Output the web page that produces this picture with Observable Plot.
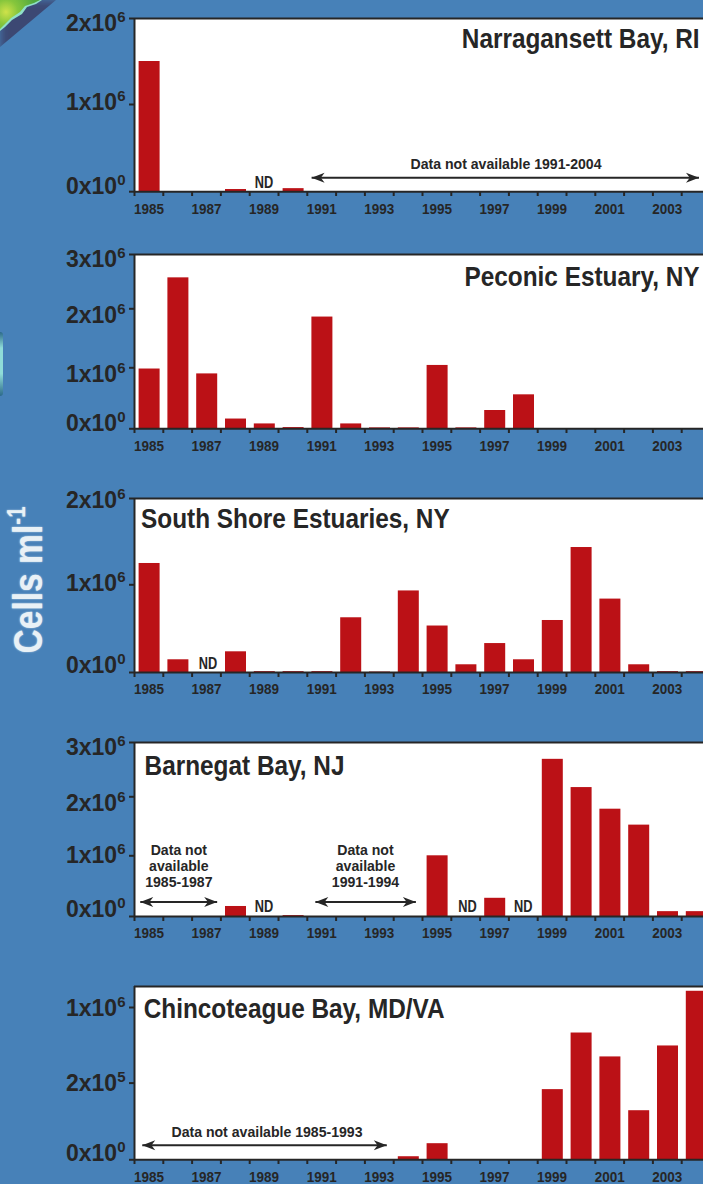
<!DOCTYPE html>
<html><head><meta charset="utf-8">
<script src="https://cdn.jsdelivr.net/npm/d3@7"></script>
<script src="https://cdn.jsdelivr.net/npm/@observablehq/plot@0.6"></script>
<style>
html,body{margin:0;padding:0;width:703px;height:1184px;overflow:hidden;background:#4781b8}
#page{position:relative;width:703px;height:1184px;overflow:hidden;background:#4781b8}
#page svg{position:absolute;left:0;background:none;max-width:none}
.land{position:absolute;left:0;top:0;width:80px;height:70px}
#shade{background:#3a3a62;opacity:.8;clip-path:polygon(0 0,56px 0,0 47px);filter:blur(4px)}
#edge{background:#8fe0c8;clip-path:polygon(0 0,42px 0,36px 4px,27px 7px,22px 14px,12px 20px,5px 27px,0 31px)}
#green{background:radial-gradient(circle at 6px 12px,#cfe24a 0,#86c63c 12px,#4fa83f 30px);clip-path:polygon(0 0,40px 0,34px 3px,25px 6px,20px 12px,11px 18px,4px 25px,0 29px)}
#sliver{position:absolute;left:0;top:332px;width:3px;height:64px;background:linear-gradient(#2c6a8a,#8fdcd8 25%,#8fdcd8 65%,#2c6a8a);border-radius:0 3px 3px 0}
#ylab{position:absolute;left:28px;top:580px;transform:translate(-50%,-50%) rotate(-90deg) scaleX(.82);white-space:nowrap;color:#e9f1f6;font:bold 41px "Liberation Sans",sans-serif;text-shadow:0 0 2px #cfe0ee}
#ylab sup{font-size:25px;line-height:0;vertical-align:17px}
</style></head><body>
<div id="page"><div id="shade" class="land"></div><div id="edge" class="land"></div><div id="green" class="land"></div><div id="sliver"></div><div id="ylab">Cells ml<sup>-1</sup></div></div>
<script>
const years = d3.range(1985, 2005);
const labelYears = [1985,1987,1989,1991,1993,1995,1997,1999,2001,2003];

const narragansett = [1.5e6,0,0,2.5e4,null,3.5e4,null,null,null,null,null,null,null,null,null,null,null,null,null,null];
const peconic = [0.98e6,2.57e6,0.90e6,0.16e6,0.08e6,0.02e6,1.86e6,0.08e6,0.015e6,0.015e6,1.04e6,0.015e6,0.30e6,0.557e6,0,0,0,0,0,0];
const southShore = [1.247e6,0.145e6,null,0.236e6,0.01e6,0.01e6,0.01e6,0.624e6,0.005e6,0.93e6,0.53e6,0.088e6,0.33e6,0.145e6,0.593e6,1.432e6,0.837e6,0.088e6,0.01e6,0.01e6];
const barnegat = [null,null,null,0.165e6,null,0.015e6,null,null,null,null,1.0e6,null,0.30e6,null,2.69e6,2.17e6,1.79e6,1.52e6,0.08e6,0.08e6];
const chincoteague = [null,null,null,null,null,null,null,null,null,8e3,4.2e4,0,0,0,1.83e5,7.3e5,4.77e5,1.28e5,5.93e5,1.17e6];

const FONT = '"Liberation Sans",sans-serif';
const INK = "#262626", RED = "#bb1116";

// Arrow heads with the tip on the data point.
const barbRight = {draw(c,s){const r=Math.sqrt(s);c.moveTo(0,0);c.lineTo(-1.83*r,-.7*r);c.lineTo(-1.3*r,0);c.lineTo(-1.83*r,.7*r);c.closePath();}};
const barbLeft = {draw(c,s){const r=Math.sqrt(s);c.moveTo(0,0);c.lineTo(1.83*r,-.7*r);c.lineTo(1.3*r,0);c.lineTo(1.83*r,.7*r);c.closePath();}};

const panels = [
 {name:"Narragansett Bay, RI", values:narragansett, top:17.5, ticks:[0,1e6,2e6], tickPx:[190.7,103.5,17.5],
  tickLabels:["0x10^0","1x10^6","2x10^6"], labelDy:[-5.5,-1.5,5.5],
  title:{x:2004.62,y:1.76e6,anchor:"end"},
  nd:[{x:1989.5,y:0.1e6}], notes:[{x:1997.9,y:0.32e6,text:"Data not available 1991-2004"}],
  arrows:[{x1:1991.15,x2:2004.6,y:0.16e6}]},
 {name:"Peconic Estuary, NY", values:peconic, top:254, ticks:[0,1e6,2e6,3e6], tickPx:[428.3,367.3,308.3,254],
  tickLabels:["0x10^0","1x10^6","2x10^6","3x10^6"], labelDy:[-5.5,7,6.5,5],
  title:{x:2004.62,y:2.58e6,anchor:"end"}, nd:[], notes:[], arrows:[]},
 {name:"South Shore Estuaries, NY", values:southShore, top:497.7, ticks:[0,1e6,2e6], tickPx:[671.7,584,497.7],
  tickLabels:["0x10^0","1x10^6","2x10^6"], labelDy:[-6.5,-1,2.5],
  title:{x:1985.23,y:1.765e6,anchor:"start"},
  nd:[{x:1987.55,y:0.1e6}], notes:[], arrows:[]},
 {name:"Barnegat Bay, NJ", values:barnegat, top:741.7, ticks:[0,1e6,2e6,3e6], tickPx:[915.7,855,796,741.7],
  tickLabels:["0x10^0","1x10^6","2x10^6","3x10^6"], labelDy:[-7,0,7,5],
  title:{x:1985.35,y:2.57e6,anchor:"start"},
  nd:[{x:1989.5,y:0.16e6},{x:1996.56,y:0.16e6},{x:1998.5,y:0.16e6}],
  notes:[{x:1986.54,y:0.835e6,text:"Data not\navailable\n1985-1987"},{x:1993.02,y:0.835e6,text:"Data not\navailable\n1991-1994"}],
  arrows:[{x1:1985.2,x2:1987.87,y:0.24e6},{x1:1991.28,x2:1994.77,y:0.24e6}]},
 {name:"Chincoteague Bay, MD/VA", values:chincoteague, top:985.7, ticks:[0,2e5,1e6,1.22e6], tickPx:[1159,1082.3,1006.7,985.7],
  shownTicks:[0,2e5,1e6], tickLabels:["0x10^0","2x10^5","1x10^6"], labelDy:[-6,1,1],
  title:{x:1985.32,y:0.986e6,anchor:"start"}, nd:[],
  notes:[{x:1989.6,y:7.3e4,text:"Data not available 1985-1993"}],
  arrows:[{x1:1985.27,x2:1993.76,y:3.8e4}]}
];

const page = document.getElementById("page");
for (const p of panels) {
  const marginTop = 10, marginBottom = 32;
  const baseline = p.tickPx[0];
  const offset = p.top - marginTop;
  const height = Math.round(baseline - p.top + marginTop + marginBottom);
  const bars = years.map((year,i)=>({year,end:year+1,value:p.values[i]})).filter(d=>d.value!=null && d.value>0);
  const shown = p.shownTicks || p.ticks;
  const tickData = shown.map((v,i)=>({v,label:p.tickLabels[i],dy:p.labelDy[i]}));
  const chart = Plot.plot({
    width:712, height, marginLeft:134, marginRight:2, marginTop, marginBottom,
    style:{background:"none",overflow:"visible"},
    x:{type:"linear",domain:[1985,2005],axis:null},
    y:{type:"linear",domain:p.ticks,range:p.tickPx.map(v=>v-offset),axis:null},
    marks:[
      Plot.frame({fill:"white",stroke:"none"}),
      Plot.rectY(bars,{x1:"year",x2:"end",y1:0,y2:"value",fill:RED,insetLeft:4.6,insetRight:3.2}),
      Plot.ruleY([p.ticks[p.ticks.length-1]],{stroke:INK,strokeWidth:2}),
      Plot.ruleX([1985],{stroke:INK,strokeWidth:2}),
      Plot.ruleY([0],{stroke:INK,strokeWidth:2}),
      Plot.axisX({ticks:years,tickSize:5,tickFormat:()=>"",stroke:INK,strokeWidth:2}),
      Plot.axisY({ticks:shown,tickSize:5,tickFormat:()=>"",stroke:INK,strokeWidth:2}),
      Plot.text(labelYears,{x:d=>d+0.5,y:0,text:d=>String(d),dy:17,lineAnchor:"middle",fontFamily:FONT,fontWeight:"bold",fontSize:15.5,fill:INK,className:"cz87"}),
      ...tickData.map(t=>Plot.text([t],{x:1985,y:"v",text:"label",dx:-9,dy:t.dy,textAnchor:"end",fontFamily:FONT,fontWeight:"bold",fontSize:23,fill:INK})),
      Plot.text([p.title],{x:"x",y:"y",text:()=>p.name,textAnchor:p.title.anchor,fontFamily:FONT,fontWeight:"bold",fontSize:28,fill:INK,className:"cz87"}),
      Plot.text(p.nd,{x:"x",y:"y",text:()=>"ND",fontFamily:FONT,fontWeight:"bold",fontSize:16,fill:INK,className:"cz80"}),
      Plot.text(p.notes,{x:"x",y:"y",text:"text",fontFamily:FONT,fontWeight:"bold",fontSize:15.5,lineHeight:1.05,fill:INK,className:"cz90"}),
      Plot.link(p.arrows,{x1:"x1",x2:"x2",y1:"y",y2:"y",stroke:INK,strokeWidth:2}),
      Plot.dot(p.arrows,{x:"x1",y:"y",symbol:barbLeft,r:4,fill:INK,stroke:"none"}),
      Plot.dot(p.arrows,{x:"x2",y:"y",symbol:barbRight,r:4,fill:INK,stroke:"none"})
    ]
  });
  chart.style.top = offset + "px";
  chart.querySelectorAll("text").forEach(t=>{
    const m = /^(\dx10)\^(\d)$/.exec(t.textContent);
    if (!m) return;
    t.textContent = m[1];
    const s = document.createElementNS("http://www.w3.org/2000/svg","tspan");
    s.setAttribute("dy","-9"); s.setAttribute("font-size","15"); s.textContent = m[2];
    t.appendChild(s);
  });
  page.appendChild(chart);
}
// No condensed face is installed: squeeze the bold one horizontally about each text's anchor.
for (const [cls,f] of [["cz87",.87],["cz80",.8],["cz90",.91]]) {
  document.querySelectorAll(`g.${cls} text`).forEach(t=>{
    t.setAttribute("transform",`${t.getAttribute("transform")||""} scale(${f},1)`);
  });
}
</script>
</body></html>
